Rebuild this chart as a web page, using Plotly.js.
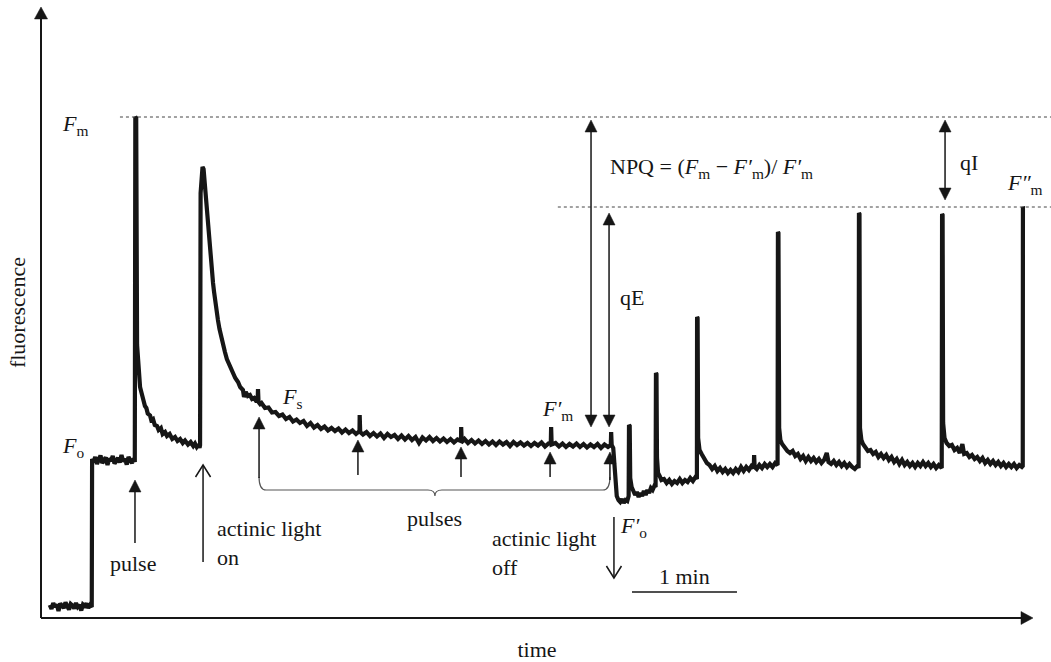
<!DOCTYPE html>
<html>
<head>
<meta charset="utf-8">
<script src="https://cdn.plot.ly/plotly-3.0.1.min.js"></script>
<style>html,body{margin:0;padding:0;background:#fff}#chart{width:1051px;height:662px}</style>
</head>
<body>
<div id="chart"></div>
<script>
// time in seconds, fluorescence in relative units
const darkTime = [5,6,7,8,9,10,11,12,13,14,15,16,17,18,19,20,21,22,23,24,25,26,27,28,29];
const darkF = [26,18,30,22,27,14,29,24,20,31,23,17,28,25,19,30,22,26,15,27,24,29,20,26,22];

const foTime = [29.2,30,31,32,33,34,35,36,37,38,39,40,41,42,43,44,45,46,47,48,49,50,51,52,53,53.6];
const foF = [318,312,322,308,318,325,310,316,321,306,319,314,324,309,317,320,311,326,313,318,307,322,315,310,319,312];

const relaxTime = [53.9,54.4,54.9,55.5,56.0,56.6,57.1,57.8,58.5,59.4,60.2,61.0,62.3,63.0,64.0,65.0,66.3,67.2,68.5,69.5,70.9,72.0,73.5,75.0,76.6,78.0,79.5,81.0,82.3,84.0,85.5,87.0,88.0,89.0,90.0,90.6];
const relaxF = [1002,1000,546,505,488,462,455,440,436,424,420,409,405,396,398,386,384,376,380,368,372,364,368,358,362,354,358,350,355,347,352,344,349,342,347,340];

const actinicTime = [90.9,91.2,91.7,92.3,92.9,93.5,94.2,94.9,95.4,96.0,96.6,97.2,97.7,98.3,98.9,99.4,100.2,101.1,102.0,102.9,104.0,105.1,106.2,107.4,108.5,109.7,111.0,112.6,113.8,115.4,116.0,117.0,118.2,119.4,120.6,121.8,122.9,123.8,124.0,124.3,125.2];
const actinicF = [346,850,894,902,898,870,846,826,796,766,736,714,696,670,652,636,614,596,578,562,546,532,518,508,498,490,480,472,462,456,442,452,444,446,438,440,434,434,458,432,428];

const steadyTime = [126,128,130,132,134,136,138,140,142,144,146,148,150,152,154,156,158,160,162,164,166,168,170,172,174,176,178,180,182,182.1,182.4,
  184,186,188,190,192,194,196,198,200,202,204,206,208,210,212,214,216,218,220,222,224,226,228,230,232,234,236,238,240,240.1,240.4,
  242,244,246,248,250,252,254,256,258,260,262,264,266,268,270,272,274,276,278,280,282,284,286,288,290,291.3,291.5,291.8,
  294,296,298,300,302,304,306,308,310,312,314,316,318,320,322,324,325.6,325.8,326.1];
const steadyF = [430,420,421,411,412,404,407,398,402,393,397,390,394,384,390,381,386,378,383,375,380,374,379,371,377,370,375,368,374,406,372,
  367,372,364,370,363,369,360,368,362,366,358,365,357,364,356,362,350,361,355,362,354,360,353,359,352,358,351,357,354,382,352,
  358,350,356,349,355,348,354,347,353,346,353,347,352,344,352,346,351,345,350,344,350,345,351,343,349,348,382,347,
  350,343,349,342,348,343,349,342,348,341,347,342,348,340,347,342,346,372,346];

const offTime = [327.0,327.6,328.3,329.0,330.0,331.0,332.0,333.0,334.0,335.0,335.8,336.0,336.4,336.7,337.5,338.5,339.5,340.5,341.5,342.5,343.5,344.5,345.5,346.5,347.5,348.5,349.5,350.5,351.2];
const offF = [340,300,262,244,236,232,238,230,236,234,244,386,384,280,262,254,246,252,242,250,244,254,246,256,250,260,256,264,262];

const rec2Time = [351.4,351.7,352.0,352.6,353.5,354.5,356,357.5,359,360.5,362,363.5,365,366.5,368,369.5,371,372.5,374,374.8];
const rec2F = [490,488,320,290,284,276,278,270,276,268,274,270,278,270,276,272,280,274,282,278];

const rec3Time = [374.9,375.2,375.5,376.3,377.5,379,380.5,382,383.5,385,386.5,388,389.5,391,392.5,394,395.5,397,398.5,400,401.5,403,404.5,406,407.3,407.5,407.8,409,410.5,412,413.5,415,416.5,418,419.5,420.9];
const rec3F = [602,600,360,336,328,318,310,306,298,304,294,300,292,298,290,296,290,298,292,302,294,302,296,304,300,326,302,298,306,300,308,302,308,302,310,306];

const rec4Time = [421.1,421.4,421.8,422.5,423.5,425,426.5,428,429.5,431,432.5,434,435.5,437,438.5,440,441.5,443,444.5,446,447.5,449,450,451.5,453,454.5,456,457.5,459,460.5,462,463.5,465,466.5,467.2];
const rec4F = [772,770,380,356,348,340,334,330,334,324,328,318,324,314,322,314,320,312,318,310,316,330,312,308,314,306,312,304,310,302,308,302,298,304,300];

const rec5Time = [467.4,467.7,468.0,468.8,469.7,471,472.5,474,475.5,477,478.5,480,481.5,483,484.5,486,487.5,489,490.5,492,493.5,495,496.5,498,499.5,501,502.5,504,505.5,507,508.5,510,511.5,513,514.7];
const rec5F = [810,808,380,356,348,340,334,336,328,332,322,328,320,326,316,322,312,318,308,316,306,312,304,310,302,310,304,312,304,310,302,308,300,306,300];

const rec6Time = [514.9,515.2,515.5,516.3,517.5,519,520.5,522,523.5,525,526.5,527.5,529,530.5,532,533.5,535,536.5,538,539.5,541,542.5,544,545.5,547,548.5,550,551.5,553,554.5,556,557.5,559,560.5,561.0,561.1,561.4];
const rec6F = [808,806,390,360,350,344,346,336,340,330,348,328,330,322,326,318,322,314,320,310,316,308,314,306,312,304,310,302,308,302,308,300,306,302,304,822,820];

// reference levels
const levelFm = 1002;
const levelFmSecond = 822;

const time = [].concat(darkTime, foTime, relaxTime, actinicTime, steadyTime, offTime, rec2Time, rec3Time, rec4Time, rec5Time, rec6Time);
const fluo = [].concat(darkF, foF, relaxF, actinicF, steadyF, offF, rec2F, rec3F, rec4F, rec5F, rec6F);

const FONT = 'Liberation Serif, Times New Roman, serif';
const INK = '#161616';
const XMAX = 566.857, YMAX = 1222;
// head geometry in data units (x: s, y: fluorescence units)
const HW = 3.43, HL = 24, VW = 4.3;

function label(text, x, y, xanchor) {
  return {text: text, x: x, y: y, xref: 'x', yref: 'y', showarrow: false, align: 'left',
    xanchor: xanchor || 'left', yanchor: 'middle', font: {family: FONT, size: 22, color: INK}};
}
function seg(x0, y0, x1, y1, w, color) {
  return {type: 'line', xref: 'x', yref: 'y', x0: x0, y0: y0, x1: x1, y1: y1,
    line: {color: color || INK, width: w || 1.5}};
}
function filledHead(x, y, dir) {
  const b = y - dir * HL;
  return {type: 'path', xref: 'x', yref: 'y', path: 'M' + x + ',' + y + ' L' + (x - HW) + ',' + b + ' L' + (x + HW) + ',' + b + ' Z',
    fillcolor: INK, line: {color: INK, width: 0.5}};
}
function openHead(x, y, dir) {
  const b = y - dir * HL;
  return {type: 'path', xref: 'x', yref: 'y', path: 'M' + (x - VW) + ',' + b + ' L' + x + ',' + y + ' L' + (x + VW) + ',' + b,
    line: {color: INK, width: 1.5}};
}
// single arrow: tip at yHead, tail at yTail
function arrowShapes(x, yHead, yTail, open) {
  const dir = yHead > yTail ? 1 : -1;
  if (open) return [seg(x, yTail, x, yHead), openHead(x, yHead, dir)];
  return [seg(x, yTail, x, yHead - dir * HL * 0.7), filledHead(x, yHead, dir)];
}
function doubleArrow(x, yTop, yBottom) {
  return [seg(x, yBottom + HL * 0.7, x, yTop - HL * 0.7), filledHead(x, yTop, 1), filledHead(x, yBottom, -1)];
}

const annotations = [
  label('<i>F</i><sub>m</sub>', 10.9, 986),
  label('<i>F</i><sub>o</sub>', 10.9, 342),
  label('pulse', 38.3, 110),
  label('actinic light<br>on', 99.4, 151),
  label('<i>F</i><sub>s</sub>', 136.6, 440),
  label('<i>F′</i><sub>m</sub>', 285.1, 416),
  label('NPQ = (<i>F</i><sub>m</sub> − <i>F′</i><sub>m</sub>)/ <i>F′</i><sub>m</sub>', 324, 900),
  label('qI', 524, 912),
  label('<i>F″</i><sub>m</sub>', 550.9, 868),
  label('qE', 329.7, 642),
  label('pulses', 225.1, 200, 'center'),
  label('actinic light<br>off', 256.6, 130),
  label('<i>F′</i><sub>o</sub>', 329.7, 182),
  label('1 min', 367.7, 84, 'center')
];

const shapes = [].concat(
  [
    // axes with arrowheads (paper coordinates, not clipped)
    {type: 'line', xref: 'paper', yref: 'paper', x0: 0, y0: 0, x1: 0, y1: 0.985, line: {color: INK, width: 2}},
    {type: 'path', xref: 'paper', yref: 'paper', path: 'M0,1 L-0.0066,0.9804 L0.0066,0.9804 Z', fillcolor: INK, line: {color: INK, width: 0.5}},
    {type: 'line', xref: 'paper', yref: 'paper', x0: 0, y0: 0, x1: 0.99, y1: 0, line: {color: INK, width: 2}},
    {type: 'path', xref: 'paper', yref: 'paper', path: 'M1,0 L0.9879,0.0106 L0.9879,-0.0106 Z', fillcolor: INK, line: {color: INK, width: 0.5}},
    // reference levels
    {type: 'line', xref: 'paper', yref: 'y', x0: 0.0796, x1: 1.02, y0: levelFm, y1: levelFm,
      line: {color: '#444', width: 1, dash: 'dot'}},
    {type: 'line', xref: 'paper', yref: 'y', x0: 0.521, x1: 1.02, y0: levelFmSecond, y1: levelFmSecond,
      line: {color: '#444', width: 1, dash: 'dot'}},
    // pulses brace
    {type: 'path', xref: 'x', yref: 'y',
      path: 'M124.6,282 Q124.6,256 128.6,256 L221.1,256 Q225.1,256 225.1,244 Q225.1,256 229.1,256 L321.1,256 Q325.1,256 325.1,282',
      line: {color: '#555', width: 1.2}},
    // 1 min scale bar
    seg(337.7, 52, 397.7, 52, 1.5)
  ],
  arrowShapes(53.7, 276, 150),
  arrowShapes(92.6, 306, 112, true),
  arrowShapes(124.6, 402, 280),
  arrowShapes(181.1, 356, 286),
  arrowShapes(240.0, 342, 282),
  arrowShapes(290.9, 332, 282),
  arrowShapes(325.1, 332, 276),
  arrowShapes(327.4, 80, 202, true),
  doubleArrow(314.3, 996, 382),
  doubleArrow(324.6, 810, 382),
  doubleArrow(516.6, 996, 836)
);

const data = [{
  x: time, y: fluo, type: 'scatter', mode: 'lines',
  line: {color: INK, width: 4.2}, hoverinfo: 'skip', showlegend: false
}];

const layout = {
  width: 1051, height: 662,
  margin: {l: 41, r: 18, t: 7, b: 44},
  paper_bgcolor: '#fff', plot_bgcolor: '#fff',
  font: {family: FONT, size: 22, color: INK},
  showlegend: false,
  xaxis: {range: [0, XMAX], showgrid: false, zeroline: false, showline: false, showticklabels: false, ticks: '',
    fixedrange: true, automargin: false,
    title: {text: 'time', font: {family: FONT, size: 22, color: INK}, standoff: 23}},
  yaxis: {range: [0, YMAX], showgrid: false, zeroline: false, showline: false, showticklabels: false, ticks: '',
    fixedrange: true, automargin: false,
    title: {text: 'fluorescence', font: {family: FONT, size: 22, color: INK}, standoff: 8}},
  annotations: annotations,
  shapes: shapes
};

Plotly.newPlot('chart', data, layout, {displayModeBar: false, staticPlot: true});
</script>
</body>
</html>
